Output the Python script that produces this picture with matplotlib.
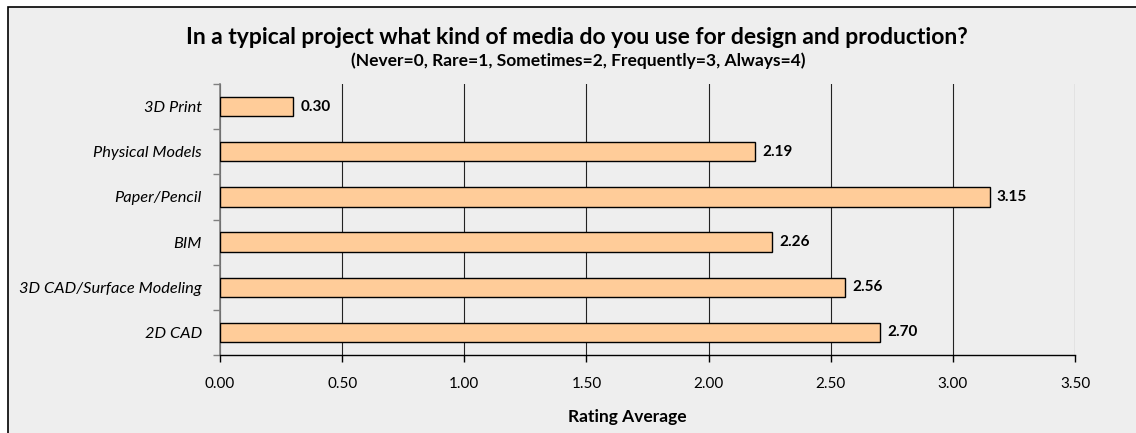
import numpy as np
import matplotlib.pyplot as plt
from matplotlib.patches import Rectangle

# ---- Survey data (rating averages) ----
categories = ['2D CAD', '3D CAD/Surface Modeling', 'BIM', 'Paper/Pencil',
              'Physical Models', '3D Print']
ratings = [2.70, 2.56, 2.26, 3.15, 2.19, 0.30]
xticks = [0.0, 0.5, 1.0, 1.5, 2.0, 2.5, 3.0, 3.5]

plt.rcParams['font.family'] = ['Lato', 'DejaVu Sans']

W, H = 1136, 433
fig = plt.figure(figsize=(W / 100, H / 100), dpi=100)
fig.patch.set_facecolor('white')

# chart frame (grey panel with black border, running off the right/bottom edge)
fig.patches.append(Rectangle((8 / W, -0.05), 1.1, 1 - 7 / H + 0.05,
                             transform=fig.transFigure, facecolor='#eeeeee',
                             edgecolor='black', linewidth=1.2, zorder=-5))

ax = fig.add_axes([220 / W, 1 - 355 / H, (1075 - 220) / W, (355 - 84) / H])
ax.set_zorder(2)
ax.set_facecolor('#eeeeee')

y = np.arange(len(categories))
ax.barh(y, ratings, height=0.43, color='#ffcc99', edgecolor='black',
        linewidth=1.0, zorder=3)
for yi, v in zip(y, ratings):
    ax.text(v + 0.03, yi, f'{v:.2f}', va='center', ha='left',
            fontsize=11, fontweight='bold', zorder=4)

ax.set_xlim(0, 3.5)
ax.set_ylim(-0.5, len(categories) - 0.5)
ax.set_xticks(xticks)
ax.set_xticklabels([f'{t:.2f}' for t in xticks], fontsize=11)
ax.xaxis.grid(True, color='#222222', linewidth=0.8, zorder=1)
ax.tick_params(axis='x', length=5, width=1, pad=11)

# category labels between tick marks, as in the spreadsheet style
ax.set_yticks(y)
ax.set_yticklabels(categories, fontsize=11.8, fontstyle='italic')
ax.set_yticks(np.arange(-0.5, len(categories), 1.0), minor=True)
ax.tick_params(axis='y', which='major', length=0, pad=13)
ax.tick_params(axis='y', which='minor', length=5, width=1, color='#808080')

for s in ['top', 'right']:
    ax.spines[s].set_visible(False)
ax.spines['left'].set_color('#808080')
ax.spines['left'].set_linewidth(1.2)
ax.spines['bottom'].set_color('black')
ax.spines['bottom'].set_linewidth(1.0)

fig.text(627 / W, 1 - 417 / H, 'Rating Average', ha='center', va='center',
         fontsize=12.5, fontweight='bold')

fig.text(577 / W, 1 - 37 / H,
         'In a typical project what kind of media do you use for design and production?',
         ha='center', va='center', fontsize=16.5, fontweight='bold')
fig.text(578 / W, 1 - 61 / H,
         '(Never=0, Rare=1, Sometimes=2, Frequently=3, Always=4)',
         ha='center', va='center', fontsize=12.5, fontweight='bold')

fig.savefig('out.png', dpi=100, facecolor=fig.get_facecolor())
